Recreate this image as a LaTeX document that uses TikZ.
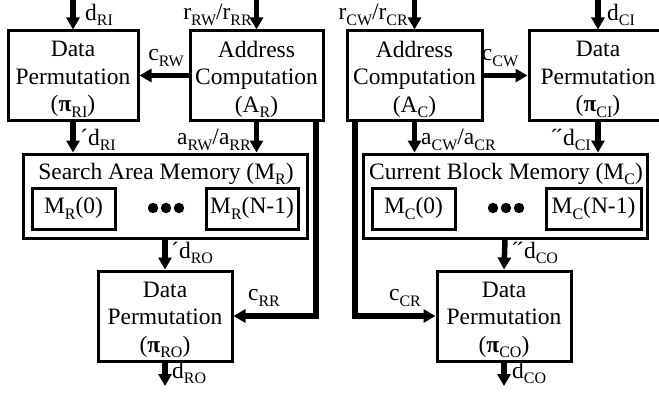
\documentclass[tikz,border=0pt]{standalone}
\usepackage{fontspec}
\setmainfont{Liberation Serif}
\usetikzlibrary{arrows.meta}
% lowered subscript in text
\newcommand\lo[1]{\raisebox{-0.24em}{\fontsize{16}{16}\selectfont #1}}
\newcommand\pri{´}
\newcommand\dpri{´\kern-.12em´}
\begin{document}
\begin{tikzpicture}[x=1pt,y=-1pt,
  every node/.style={inner sep=0pt,font=\fontsize{23.5}{27.5}\selectfont},
  box/.style={draw,line width=3pt},
  btext/.style={align=center,yshift=-4pt},
  arr/.style={line width=5.5pt,-{Triangle[length=12pt,width=13pt]}}]
\useasboundingbox (0,0) rectangle (659,396);

% top row: permutation and address units
\node[box,minimum width=130pt,minimum height=89pt] (dpri) at (73,75.5) {};
\node[btext] (dpri-t) at (dpri) {Data\\Permutation\\(\textbf{π}\lo{RI})};
\node[box,minimum width=133pt,minimum height=89pt] (ar) at (256.5,75.5) {};
\node[btext] (ar-t) at (ar) {Address\\Computation\\(A\lo{R})};
\node[box,minimum width=135pt,minimum height=89pt] (ac) at (414.5,75.5) {};
\node[btext] (ac-t) at (ac) {Address\\Computation\\(A\lo{C})};
\node[box,minimum width=138pt,minimum height=89pt] (dpci) at (598,75.5) {};
\node[btext] (dpci-t) at (dpci) {Data\\Permutation\\(\textbf{π}\lo{CI})};

% memories
\node[box,minimum width=284pt,minimum height=84pt] (sam) at (165,196) {};
\node (samt) at (166,174) {Search Area Memory (M\lo{R})};
\node[box,minimum width=83pt,minimum height=41pt] (mr0) at (73.5,208.5) {M\lo{R}(0)};
\node[box,minimum width=92pt,minimum height=41pt] (mrn) at (252,208.5) {M\lo{R}(N-1)};
\node[box,minimum width=284pt,minimum height=84pt] (cbm) at (505,196) {};
\node (cbmt) at (506,174) {Current Block Memory (M\lo{C})};
\node[box,minimum width=83pt,minimum height=41pt] (mc0) at (413.5,208.5) {M\lo{C}(0)};
\node[box,minimum width=95pt,minimum height=41pt] (mcn) at (593.5,208.5) {M\lo{C}(N-1)};
\foreach \cx in {153,166,179,493,506,519} \fill (\cx,208) circle (5.2pt);

% output permutations
\node[box,minimum width=134pt,minimum height=90pt] (dpro) at (165,316) {};
\node[btext] (dpro-t) at (dpro) {Data\\Permutation\\(\textbf{π}\lo{RO})};
\node[box,minimum width=134pt,minimum height=90pt] (dpco) at (504,316) {};
\node[btext] (dpco-t) at (dpco) {Data\\Permutation\\(\textbf{π}\lo{CO})};

% free ends
\coordinate (iri) at (73,0);
\coordinate (irr) at (256.5,0);
\coordinate (icr) at (414.5,0);
\coordinate (ici) at (598,0);
\coordinate (oro) at (165,386);
\coordinate (oco) at (504,386);
\coordinate (rrt) at (316,118.5);
\coordinate (crt) at (355,118.5);

% connectors
\draw[arr] (iri) -- (dpri.north);
\draw[arr] (irr) -- (ar.north);
\draw[arr] (icr) -- (ac.north);
\draw[arr] (ici) -- (dpci.north);
\draw[arr] (ar.west) -- (dpri.east);
\draw[arr] (ac.east) -- (dpci.west);
\draw[arr] (dpri.south) -- (dpri.south |- sam.north);
\draw[arr] (ar.south) -- (ar.south |- sam.north);
\draw[arr] (ac.south) -- (ac.south |- cbm.north);
\draw[arr] (dpci.south) -- (dpci.south |- cbm.north);
\draw[arr] (sam.south) -- (dpro.north);
\draw[arr] (cbm.south) -- (dpco.north);
\draw[arr] (dpro.south) -- (oro);
\draw[arr] (dpco.south) -- (oco);
\draw[arr] (rrt) |- (dpro.east);
\draw[arr] (crt) |- (dpco.west);

% signal labels
\node[anchor=west] (l1) at (85,15) {d\lo{RI}};
\node[anchor=east] (l2) at (252,15) {r\lo{RW}/r\lo{RR}};
\node (l3) at (166,58) {c\lo{RW}};
\node[anchor=west] (l4) at (80,140) {\pri d\lo{RI}};
\node[anchor=east] (l5) at (251,140) {a\lo{RW}/a\lo{RR}};
\node[anchor=west] (l6) at (171,253) {\pri d\lo{RO}};
\node (l7) at (264,298) {c\lo{RR}};
\node[anchor=west] (l8) at (172,373) {d\lo{RO}};
\node[anchor=east] (l9) at (408,15) {r\lo{CW}/r\lo{CR}};
\node[anchor=west] (l10) at (607,15) {d\lo{CI}};
\node (l11) at (500,58) {c\lo{CW}};
\node[anchor=west] (l12) at (421,140) {a\lo{CW}/a\lo{CR}};
\node[anchor=east] (l13) at (591,140) {\dpri d\lo{CI}};
\node[anchor=west] (l14) at (511,253) {\dpri d\lo{CO}};
\node (l15) at (405,298) {c\lo{CR}};
\node[anchor=west] (l16) at (512,373) {d\lo{CO}};
\end{tikzpicture}
\end{document}
